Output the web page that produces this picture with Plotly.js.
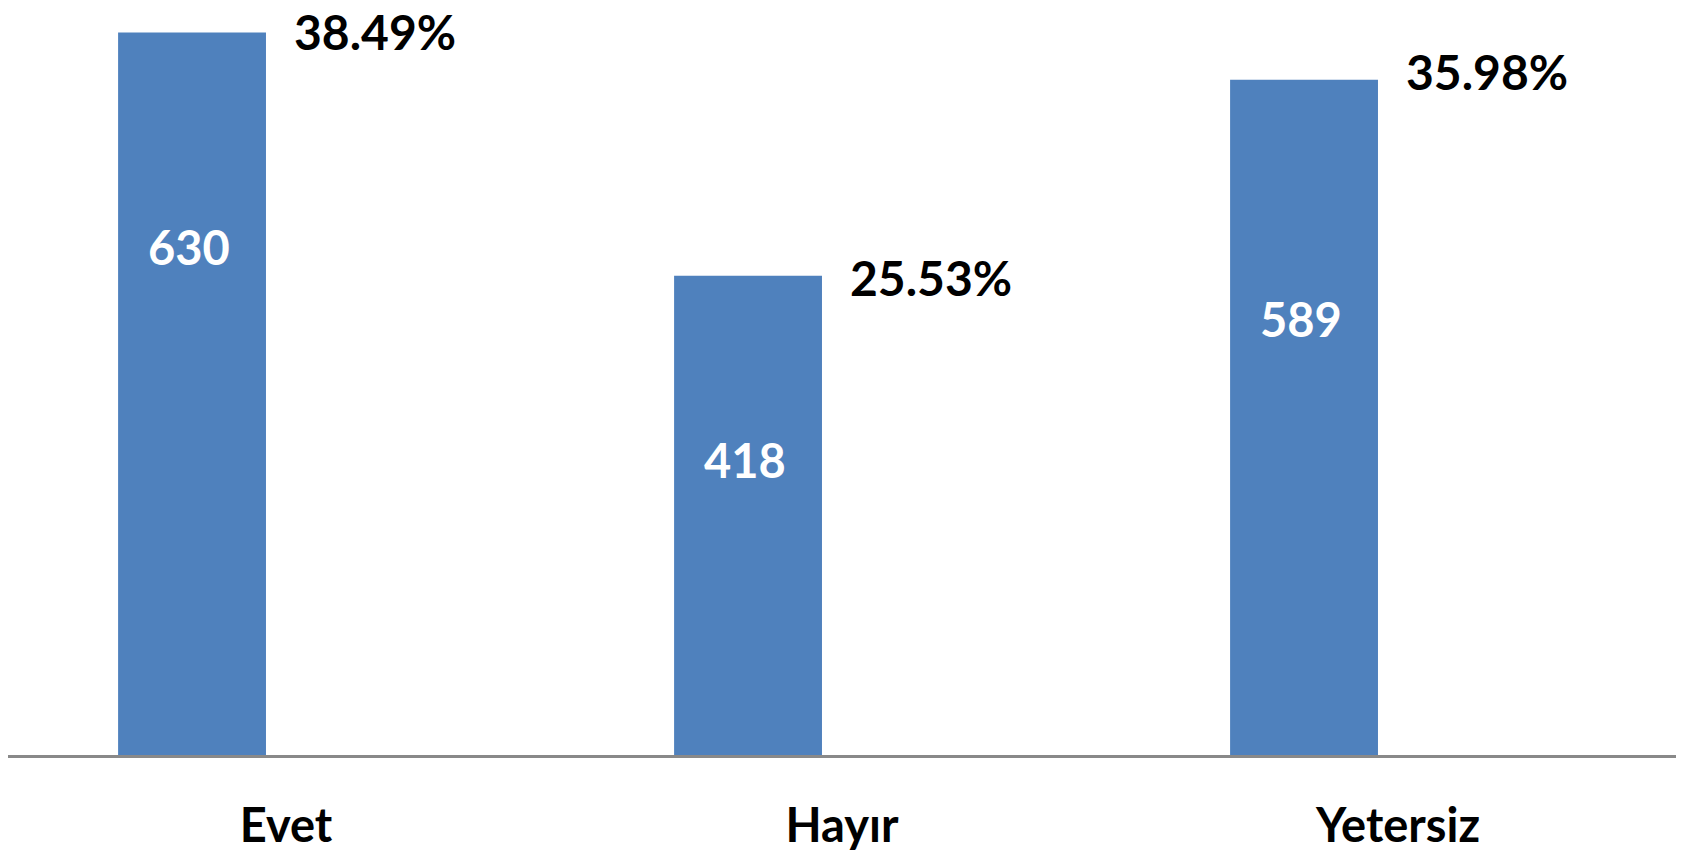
<!DOCTYPE html>
<html>
<head>
<meta charset="utf-8">
<script src="https://cdn.plot.ly/plotly-3.0.1.min.js"></script>
<style>html,body{margin:0;padding:0;background:#fff;}#chart{width:1698px;height:853px;}</style>
</head>
<body>
<div id="chart"></div>
<script>
const categories = ["Evet", "Hayır", "Yetersiz"];
const counts = [630, 418, 589];
const percentLabels = ["38.49%", "25.53%", "35.98%"];

// label placement (layout only)
const insideLabelY = [443, 257, 380];
const percentYShift = [1, -2, 8];
const barOffset = -0.302, barWidth = 0.266;
const xs = categories.map((c, i) => i);

const FONT = "Lato, 'Open Sans', sans-serif";

const traces = [
  {
    type: "bar",
    x: xs,
    y: counts,
    width: barWidth,
    offset: barOffset,
    marker: {color: "#4F81BD"},
    hoverinfo: "skip",
    showlegend: false
  }
];

const insideAnn = counts.map((v, i) => ({
  x: i + barOffset + barWidth / 2,
  y: insideLabelY[i],
  xref: "x", yref: "y",
  text: String(v),
  showarrow: false,
  xshift: -3,
  font: {family: FONT, size: 47, color: "#FFFFFF", weight: 700}
}));

const pctAnn = counts.map((v, i) => ({
  x: i,
  y: v,
  xref: "x", yref: "y",
  text: percentLabels[i],
  showarrow: false,
  xanchor: "left",
  yanchor: "middle",
  xshift: 6,
  yshift: percentYShift[i],
  font: {family: FONT, size: 48, color: "#000000", weight: 700}
}));

const layout = {
  width: 1698,
  height: 853,
  margin: {l: 8, r: 22, t: 20, b: 98},
  paper_bgcolor: "#FFFFFF",
  plot_bgcolor: "#FFFFFF",
  xaxis: {
    range: [-0.5, 2.5],
    tickmode: "array",
    tickvals: xs,
    ticktext: categories,
    showgrid: false,
    zeroline: false,
    showline: true,
    linecolor: "#898989",
    linewidth: 2.5,
    ticks: "",
    ticklabelstandoff: 28,
    tickfont: {family: FONT, size: 47, color: "#000000", weight: 700},
    fixedrange: true
  },
  yaxis: {
    range: [0, 641],
    showgrid: false,
    zeroline: false,
    showline: false,
    showticklabels: false,
    ticks: "",
    fixedrange: true
  },
  annotations: insideAnn.concat(pctAnn),
  showlegend: false
};

Plotly.newPlot("chart", traces, layout, {displayModeBar: false, staticPlot: true});
</script>
</body>
</html>
